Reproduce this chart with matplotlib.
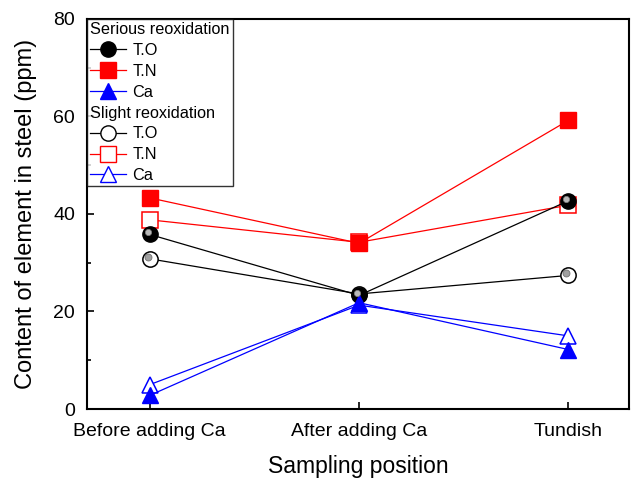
import numpy as np
import matplotlib.pyplot as plt
import matplotlib.transforms as mtransforms
from matplotlib.lines import Line2D

plt.rcParams['font.family'] = ['Liberation Sans', 'DejaVu Sans']

positions = ['Before adding Ca', 'After adding Ca', 'Tundish']

# Serious reoxidation
serious_TO = [35.8, 23.3, 42.7]
serious_TN = [43.3, 34.0, 59.2]
serious_Ca = [2.8, 21.8, 12.2]

# Slight reoxidation
slight_TO = [30.8, 23.6, 27.4]
slight_TN = [38.8, 34.2, 41.8]
slight_Ca = [5.0, 21.3, 15.0]

x = np.arange(len(positions))
ms = 11
lw = 0.9

fig = plt.figure(figsize=(6.31, 4.83), dpi=100)
ax = fig.add_axes([0.1379, 0.1532, 0.859, 0.8075])

# highlight offset for the "sphere" look of the T.O markers
hl = mtransforms.offset_copy(ax.transData, fig=fig, x=-2.0, y=2.0, units='dots')

# slight reoxidation (open markers)
ax.plot(x, slight_TN, '-s', color='red', lw=lw, ms=ms, mfc='white', mec='red', mew=1.1, zorder=3)
ax.plot(x, slight_TO, '-o', color='black', lw=lw, ms=ms, mfc='white', mec='black', mew=1.1, zorder=3)
ax.plot(x, slight_TO, 'o', ms=5, mfc='#a0a0a0', mec='#707070', mew=0.6, transform=hl, zorder=3.1)
ax.plot(x, slight_Ca, '-^', color='blue', lw=lw, ms=ms + 1, mfc='white', mec='blue', mew=1.1, zorder=3)

# serious reoxidation (filled markers)
ax.plot(x, serious_TN, '-s', color='red', lw=lw, ms=ms, mfc='red', mec='red', zorder=4)
ax.plot(x, serious_TO, '-o', color='black', lw=lw, ms=ms, mfc='black', mec='black', zorder=4)
ax.plot(x, serious_TO, 'o', ms=4.5, mfc='#b8b8b8', mec='#808080', mew=0.5, transform=hl, zorder=4.1)
ax.plot(x, serious_Ca, '-^', color='blue', lw=lw, ms=ms + 1, mfc='blue', mec='blue', zorder=4)

ax.set_xlim(-0.3, 2.29)
ax.set_ylim(0, 80)
ax.set_xticks(x)
ax.set_xticklabels(positions, fontsize=14)
ax.set_yticks([0, 20, 40, 60, 80])
ax.set_yticks([10, 30, 50, 70], minor=True)
ax.tick_params(axis='both', direction='in', labelsize=14, width=1.2, length=5, top=False, right=False)
ax.tick_params(axis='x', pad=10)
ax.tick_params(axis='y', pad=8.5)
ax.tick_params(axis='y', which='minor', direction='in', length=3, width=1.2)
for s in ax.spines.values():
    s.set_linewidth(1.5)
ax.set_xlabel('Sampling position', fontsize=16.5, labelpad=11)
ax.set_ylabel('Content of element in steel (ppm)', fontsize=17, labelpad=11.5)

# legend with two group headers
blank = Line2D([], [], linestyle='none')
h_sTO = Line2D([], [], color='black', lw=lw, marker='o', ms=ms, mfc='black', mec='black')
h_sTN = Line2D([], [], color='red', lw=lw, marker='s', ms=ms, mfc='red', mec='red')
h_sCa = Line2D([], [], color='blue', lw=lw, marker='^', ms=ms + 1, mfc='blue', mec='blue')
h_lTO = Line2D([], [], color='black', lw=lw, marker='o', ms=ms, mfc='white', mec='black')
h_lTN = Line2D([], [], color='red', lw=lw, marker='s', ms=ms, mfc='white', mec='red')
h_lCa = Line2D([], [], color='blue', lw=lw, marker='^', ms=ms + 1, mfc='white', mec='blue')
handles = [blank, h_sTO, h_sTN, h_sCa, blank, h_lTO, h_lTN, h_lCa]
labels = ['Serious reoxidation', 'T.O', 'T.N', 'Ca',
          'Slight reoxidation', 'T.O', 'T.N', 'Ca']
leg = ax.legend(handles, labels, loc='upper left', bbox_to_anchor=(0.0, 1.0),
                borderaxespad=0.0, fontsize=11.7, frameon=True, fancybox=False,
                handlelength=2.2, handletextpad=0.4, labelspacing=0.36,
                borderpad=0.2)
leg.get_frame().set_edgecolor('black')
leg.get_frame().set_linewidth(1.0)
# pull the header rows to the left edge
for hp in leg._legend_handle_box.get_children()[0].get_children():
    txt = hp.get_children()[1].get_children()[0]
    if 'reoxidation' in txt.get_text():
        hp.get_children()[0].width = 0
        hp.sep = 0

fig.savefig('out.png', dpi=100)
